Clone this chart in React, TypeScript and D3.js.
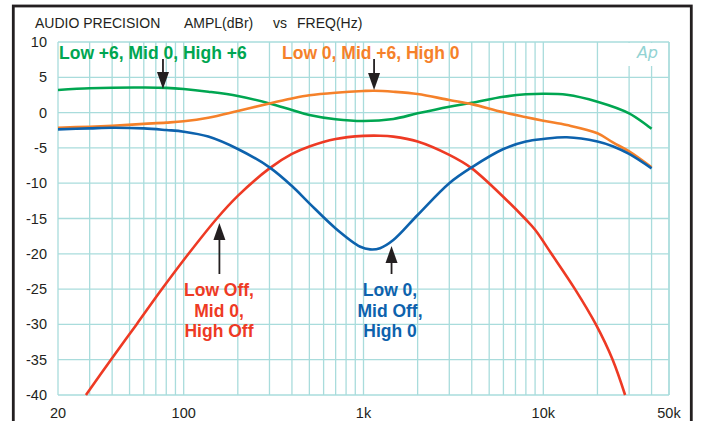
import React, { useEffect, useRef } from 'react';
import * as d3 from 'd3';

// Tick values / labels
const xTickValues = [20, 100, 1000, 10000, 50000];
const xTickLabels = ['20', '100', '1k', '10k', '50k'];
const yTickValues = [10, 5, 0, -5, -10, -15, -20, -25, -30, -35, -40];

// Series as [freq Hz, dBr]
const lowBoostHighBoost: [number, number][] = [
  [20, 3.2], [30, 3.44], [40, 3.53], [60, 3.55], [80, 3.5], [100, 3.34], [137, 2.96],
  [200, 2.35], [300, 1.3], [400, 0.37], [500, -0.34], [700, -0.95], [1000, -1.2],
  [1465, -0.9], [2000, -0.1], [3000, 0.84], [4000, 1.4], [6000, 2.25], [8000, 2.59],
  [10000, 2.68], [13500, 2.54], [20000, 1.55], [30000, -0.1], [40000, -2.3],
];
const midBoost: [number, number][] = [
  [20, -2.14], [30, -2.0], [40, -1.86], [60, -1.6], [80, -1.42], [100, -1.23], [137, -0.72],
  [200, 0.23], [300, 1.3], [400, 2.0], [500, 2.45], [700, 2.82], [1000, 3.06], [1150, 3.1],
  [1465, 2.96], [2000, 2.63], [3000, 1.78], [4000, 1.2], [6000, 0.04], [10000, -1.15],
  [13500, -1.76], [20000, -2.93], [24500, -4.26], [30000, -5.5], [40000, -7.75],
];
const midOnly: [number, number][] = [
  [28.6, -40], [39.4, -35], [54.7, -30], [75.7, -25], [106.4, -20], [153, -15],
  [200, -11.8], [300, -7.9], [400, -5.86], [500, -4.8], [700, -3.74], [1000, -3.3],
  [1236, -3.27], [1465, -3.4], [2000, -4.1], [3000, -6.0], [4000, -7.9], [6200, -12.3],
  [7900, -15], [9000, -16.6], [11100, -20], [15000, -25], [19600, -30],
  [24300, -35], [28500, -40],
];
const midOff: [number, number][] = [
  [20, -2.37], [30, -2.23], [40, -2.14], [60, -2.23], [80, -2.47], [100, -2.7], [137, -3.4],
  [200, -5.16], [300, -7.75], [400, -10.4], [500, -12.85], [700, -16.4], [960, -19.0],
  [1087, -19.37], [1236, -19.2], [1465, -18.05], [2000, -14.5], [3000, -10.0], [4000, -7.75],
  [6000, -5.16], [8000, -4.1], [10000, -3.74], [13500, -3.5], [20000, -4.1], [24500, -4.8],
  [30000, -5.86], [40000, -7.9],
];

const GREEN = '#00a651';
const ORANGE = '#f5812a';
const RED = '#ee3a24';
const BLUE = '#0d62ad';
const GRID = '#a9dcdc';
const INK = '#231f20';

const App: React.FC = () => {
  const svgRef = useRef<SVGSVGElement>(null);

  const width = 701;
  const height = 421;
  const left = 58, right = 669, top = 42, bottom = 395;

  useEffect(() => {
    if (!svgRef.current) return;
    const svg = d3.select(svgRef.current);
    svg.selectAll('*').remove();

    const x = d3.scaleLog().domain([20, 50000]).range([left, right]);
    const y = d3.scaleLinear().domain([-40, 10]).range([bottom, top]);

    svg.append('rect').attr('width', width).attr('height', height).attr('fill', '#fff');

    // outer frame
    svg.append('rect')
      .attr('x', 13.3).attr('y', 6).attr('width', 678).attr('height', 440)
      .attr('fill', 'none').attr('stroke', INK).attr('stroke-width', 2.8);

    // grid
    const minor: number[] = [];
    [10, 100, 1000, 10000].forEach(d => {
      for (let k = 1; k <= 9; k++) {
        const f = d * k;
        if (f >= 20 && f <= 50000) minor.push(f);
      }
    });
    minor.push(50000);
    const grid = svg.append('g').attr('stroke', GRID).attr('stroke-width', 1.3);
    minor.forEach(f => {
      grid.append('line')
        .attr('x1', x(f)).attr('x2', x(f)).attr('y1', top).attr('y2', bottom);
    });
    yTickValues.forEach(v => {
      grid.append('line')
        .attr('x1', left).attr('x2', right).attr('y1', y(v)).attr('y2', y(v));
    });

    // Ap logo
    svg.append('rect')
      .attr('x', x(25000)).attr('y', top + 1).attr('width', right - 1 - x(25000)).attr('height', 23)
      .attr('fill', '#fff');
    svg.append('text')
      .text('Ap')
      .attr('x', 658).attr('y', 58)
      .attr('text-anchor', 'end')
      .attr('font-family', 'DejaVu Sans, sans-serif')
      .attr('font-style', 'italic')
      .attr('font-weight', 200)
      .attr('font-size', 16)
      .attr('fill', '#93d3d3');

    // title
    const title = svg.append('g')
      .attr('font-family', 'Liberation Sans, Arial, sans-serif')
      .attr('font-size', 14)
      .attr('fill', INK);
    title.append('text').attr('x', 35).attr('y', 28).text('AUDIO PRECISION');
    title.append('text').attr('x', 184).attr('y', 28).text('AMPL(dBr)');
    title.append('text').attr('x', 273).attr('y', 28).text('vs');
    title.append('text').attr('x', 297).attr('y', 28).text('FREQ(Hz)');

    // axis labels
    const axisText = svg.append('g')
      .attr('font-family', 'Liberation Sans, Arial, sans-serif')
      .attr('font-size', 14.5)
      .attr('fill', INK);
    yTickValues.forEach(v => {
      axisText.append('text')
        .attr('x', 47).attr('y', y(v))
        .attr('text-anchor', 'end')
        .attr('dominant-baseline', 'central')
        .text(String(v));
    });
    xTickValues.forEach((f, i) => {
      axisText.append('text')
        .attr('x', x(f)).attr('y', 418)
        .attr('text-anchor', 'middle')
        .text(xTickLabels[i]);
    });

    // curves
    const line = d3.line<[number, number]>()
      .x(d => x(d[0]))
      .y(d => y(d[1]))
      .curve(d3.curveCatmullRom.alpha(0.5));
    const series: Array<[[number, number][], string]> = [
      [lowBoostHighBoost, GREEN],
      [midBoost, ORANGE],
      [midOnly, RED],
      [midOff, BLUE],
    ];
    series.forEach(([data, color]) => {
      svg.append('path')
        .attr('d', line(data))
        .attr('fill', 'none')
        .attr('stroke', color)
        .attr('stroke-width', 2.6)
        .attr('stroke-linejoin', 'round');
    });

    // arrows
    const arrow = (ax: number, tipY: number, tailY: number) => {
      const dir = tailY < tipY ? -1 : 1; // -1: pointing down
      const headLen = 17;
      svg.append('line')
        .attr('x1', ax).attr('x2', ax)
        .attr('y1', tailY).attr('y2', tipY + dir * (headLen - 2))
        .attr('stroke', INK).attr('stroke-width', 1.8);
      svg.append('path')
        .attr('d', `M${ax},${tipY} L${ax - 6},${tipY + dir * headLen} L${ax + 6},${tipY + dir * headLen} Z`)
        .attr('fill', INK);
    };
    arrow(x(76.7), 89, 59);
    arrow(x(1145), 90, 59);
    arrow(x(158), 223, 274);
    arrow(x(1432), 246, 274);

    // annotation labels
    const note = svg.append('g')
      .attr('font-family', 'Liberation Sans, Arial, sans-serif')
      .attr('font-weight', 'bold')
      .attr('font-size', 17.5);
    note.append('text').attr('x', 59).attr('y', 59).attr('fill', GREEN)
      .text('Low +6, Mid 0, High +6');
    note.append('text').attr('x', 282).attr('y', 59).attr('fill', ORANGE)
      .text('Low 0, Mid +6, High 0');
    ['Low Off,', 'Mid 0,', 'High Off'].forEach((t, i) => {
      note.append('text').attr('x', 219).attr('y', 296 + i * 20.7)
        .attr('text-anchor', 'middle').attr('fill', RED).text(t);
    });
    ['Low 0,', 'Mid Off,', 'High 0'].forEach((t, i) => {
      note.append('text').attr('x', 390).attr('y', 296 + i * 20.7)
        .attr('text-anchor', 'middle').attr('fill', BLUE).text(t);
    });
  }, []);

  return (
    <svg
      ref={svgRef}
      width={width}
      height={height}
      style={{ position: 'absolute', left: 0, top: 0, display: 'block' }}
    />
  );
};

export default App;
